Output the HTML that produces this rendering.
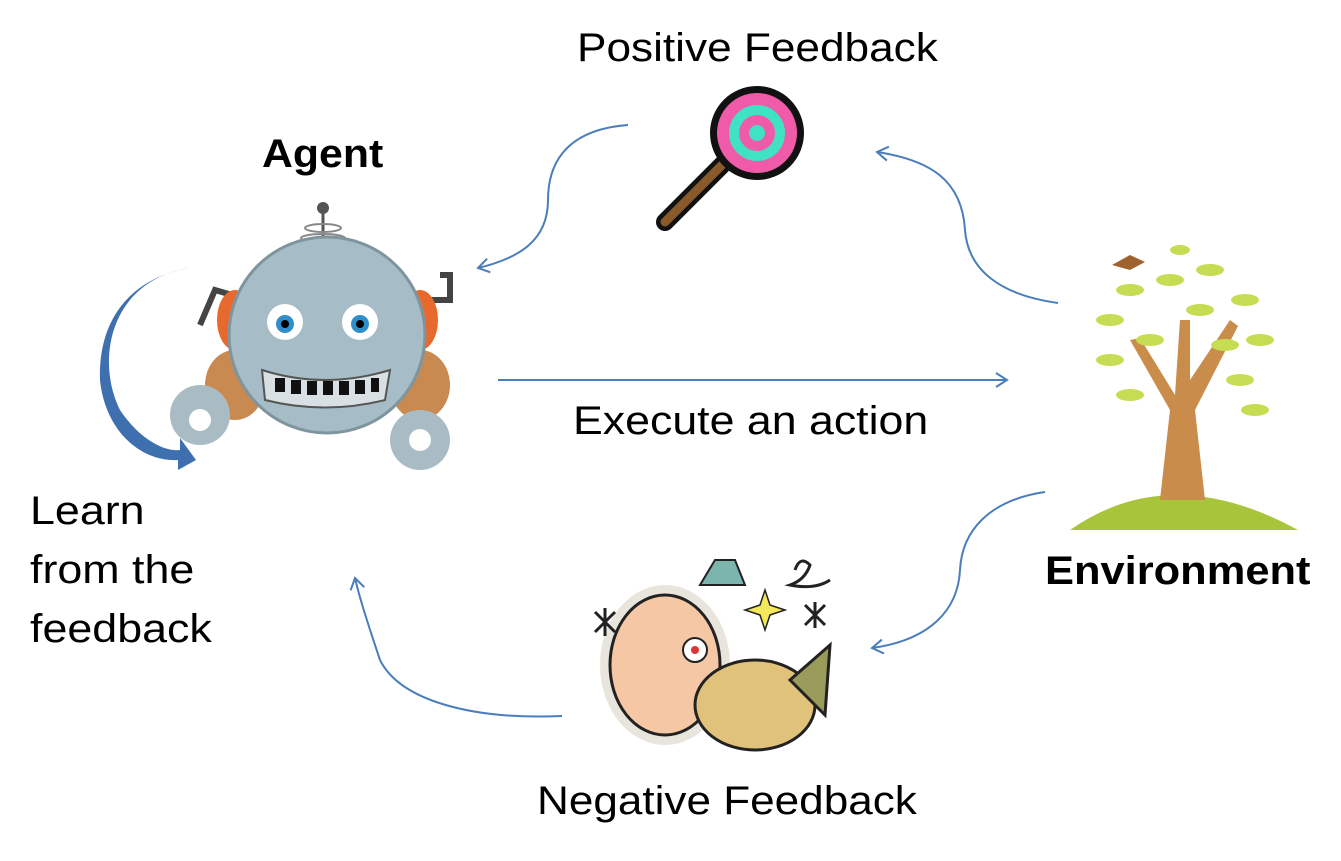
<!DOCTYPE html>
<html><head><meta charset="utf-8"><style>
html,body{margin:0;padding:0;background:#fff;}
body{width:1341px;height:861px;position:relative;overflow:hidden;font-family:"Liberation Sans",sans-serif;color:#000;}
.t{position:absolute;font-size:40px;line-height:1;white-space:nowrap;transform-origin:0 0;}
.b{font-weight:bold;}
svg{position:absolute;left:0;top:0;}
</style></head><body>
<svg width="1341" height="861" viewBox="0 0 1341 861">
<defs>
<marker id="a" markerWidth="16" markerHeight="16" refX="12" refY="8" orient="auto" markerUnits="userSpaceOnUse">
<path d="M1,1 L12,8 L1,15" fill="none" stroke="#4a7ebb" stroke-width="2"/></marker>
</defs>
<g fill="none" stroke="#4a7ebb" stroke-width="2">
<path d="M628,125 C560,130 548,170 548,200 C548,240 520,258 478,268" marker-end="url(#a)"/>
<path d="M1058,303 C1000,295 968,270 965,230 C962,180 930,160 877,152" marker-end="url(#a)"/>
<path d="M498,380 L1007,380" marker-end="url(#a)"/>
<path d="M1045,492 C990,500 962,530 960,570 C958,610 930,640 872,648" marker-end="url(#a)"/>
<path d="M562,716 C470,720 400,700 380,660 C370,630 360,600 355,578" marker-end="url(#a)"/>
</g>
<path d="M190,268 C110,280 95,360 120,410 C140,440 165,452 180,450 L180,438 L196,460 L178,470 L178,460 C140,462 105,430 100,380 C98,320 130,278 190,268 Z" fill="#3e6fae"/>
<g>
<line x1="323" y1="210" x2="323" y2="255" stroke="#555" stroke-width="3"/>
<circle cx="323" cy="208" r="6" fill="#555"/>
<ellipse cx="323" cy="228" rx="18" ry="4" fill="none" stroke="#888" stroke-width="2"/>
<ellipse cx="323" cy="238" rx="22" ry="4" fill="none" stroke="#888" stroke-width="2"/>
<path d="M200,325 L215,290 L232,295" stroke="#444" stroke-width="6" fill="none"/>
<path d="M430,300 L450,300 L450,275 L440,275" stroke="#444" stroke-width="6" fill="none"/>
<ellipse cx="235" cy="320" rx="18" ry="30" fill="#e8692e"/>
<ellipse cx="420" cy="320" rx="18" ry="30" fill="#e8692e"/>
<ellipse cx="235" cy="385" rx="30" ry="35" fill="#c98a52"/>
<ellipse cx="420" cy="385" rx="30" ry="35" fill="#c98a52"/>
<circle cx="200" cy="415" r="30" fill="#a9bcc4"/><circle cx="200" cy="420" r="11" fill="#fff"/>
<circle cx="420" cy="440" r="30" fill="#a9bcc4"/><circle cx="420" cy="440" r="11" fill="#fff"/>
<circle cx="327" cy="335" r="98" fill="#a6bcc6" stroke="#7f959e" stroke-width="3"/>
<circle cx="285" cy="322" r="18" fill="#fff"/><circle cx="285" cy="324" r="9" fill="#2f8ecc"/><circle cx="285" cy="324" r="4" fill="#000"/>
<circle cx="360" cy="322" r="18" fill="#fff"/><circle cx="360" cy="324" r="9" fill="#2f8ecc"/><circle cx="360" cy="324" r="4" fill="#000"/>
<path d="M262,370 Q325,390 390,370 L385,400 Q325,415 265,400 Z" fill="#d8e0e3" stroke="#555" stroke-width="2"/>
<g fill="#111"><rect x="275" y="378" width="10" height="14"/><rect x="291" y="380" width="10" height="14"/><rect x="307" y="381" width="10" height="14"/><rect x="323" y="381" width="10" height="14"/><rect x="339" y="381" width="10" height="14"/><rect x="355" y="380" width="10" height="14"/><rect x="371" y="378" width="8" height="14"/></g>
</g>
<line x1="665" y1="222" x2="730" y2="157" stroke="#111" stroke-width="18" stroke-linecap="round"/>
<line x1="665" y1="222" x2="730" y2="157" stroke="#8b5a2b" stroke-width="9" stroke-linecap="round"/>
<circle cx="757" cy="133" r="47" fill="#111"/>
<circle cx="757" cy="133" r="40" fill="#ef5ba8"/>
<circle cx="757" cy="133" r="28" fill="#3fe3c4"/>
<circle cx="757" cy="133" r="18" fill="#ef5ba8"/>
<circle cx="757" cy="133" r="8" fill="#3fe3c4"/>
<path d="M1070,530 Q1170,460 1298,530 Z" fill="#a8c43a"/>
<path d="M1160,500 L1170,410 L1130,340 L1140,338 L1175,395 L1180,320 L1190,320 L1190,380 L1230,320 L1238,326 L1195,410 L1205,500 Z" fill="#c98c4a"/>
<g fill="#c6dc52">
<ellipse cx="1110" cy="320" rx="14" ry="6"/><ellipse cx="1130" cy="290" rx="14" ry="6"/><ellipse cx="1170" cy="280" rx="14" ry="6"/><ellipse cx="1210" cy="270" rx="14" ry="6"/><ellipse cx="1245" cy="300" rx="14" ry="6"/><ellipse cx="1260" cy="340" rx="14" ry="6"/><ellipse cx="1240" cy="380" rx="14" ry="6"/><ellipse cx="1110" cy="360" rx="14" ry="6"/><ellipse cx="1150" cy="340" rx="14" ry="6"/><ellipse cx="1200" cy="310" rx="14" ry="6"/><ellipse cx="1225" cy="345" rx="14" ry="6"/><ellipse cx="1130" cy="395" rx="14" ry="6"/><ellipse cx="1255" cy="410" rx="14" ry="6"/><ellipse cx="1180" cy="250" rx="10" ry="5"/>
</g>
<path d="M1112,265 L1130,255 L1145,262 L1130,270 Z" fill="#a0622d"/>
<g>
<ellipse cx="665" cy="665" rx="65" ry="80" fill="#e8e5dc"/>
<ellipse cx="665" cy="665" rx="55" ry="70" fill="#f5c7a5" stroke="#222" stroke-width="3"/>
<circle cx="695" cy="650" r="12" fill="#fff" stroke="#222" stroke-width="2"/><circle cx="695" cy="650" r="4" fill="#d33"/>
<path d="M700,585 L745,585 L735,560 L715,560 Z" fill="#7bb5ad" stroke="#222" stroke-width="2"/>
<ellipse cx="755" cy="705" rx="60" ry="45" fill="#e0c27a" stroke="#222" stroke-width="3"/>
<path d="M790,680 L830,645 L825,715 Z" fill="#9a9a5a" stroke="#222" stroke-width="3"/>
<path d="M765,590 L770,605 L785,610 L770,615 L765,630 L760,615 L745,610 L760,605 Z" fill="#f2e85a" stroke="#222" stroke-width="1.5"/>
<g stroke="#222" stroke-width="3"><path d="M595,612 L615,632 M615,612 L595,632 M605,608 L605,636"/><path d="M805,605 L825,625 M825,605 L805,625 M815,602 L815,628"/></g>
<path d="M795,570 Q800,555 810,565 Q805,580 790,585 Q815,590 830,580" fill="none" stroke="#222" stroke-width="3"/>
</g>
</svg>
<div class="t" style="left:577px;top:28px;transform:scaleX(1.104);">Positive Feedback</div>
<div class="t b" style="left:262px;top:134px;transform:scaleX(1.07);">Agent</div>
<div class="t" style="left:573px;top:401px;transform:scaleX(1.117);">Execute an action</div>
<div class="t" style="left:30px;top:491px;transform:scaleX(1.12);">Learn</div>
<div class="t" style="left:30px;top:550px;transform:scaleX(1.12);">from the</div>
<div class="t" style="left:30px;top:609px;transform:scaleX(1.12);">feedback</div>
<div class="t b" style="left:1045px;top:551px;transform:scaleX(1.086);">Environment</div>
<div class="t" style="left:537px;top:781px;transform:scaleX(1.102);">Negative Feedback</div>
</body></html>
